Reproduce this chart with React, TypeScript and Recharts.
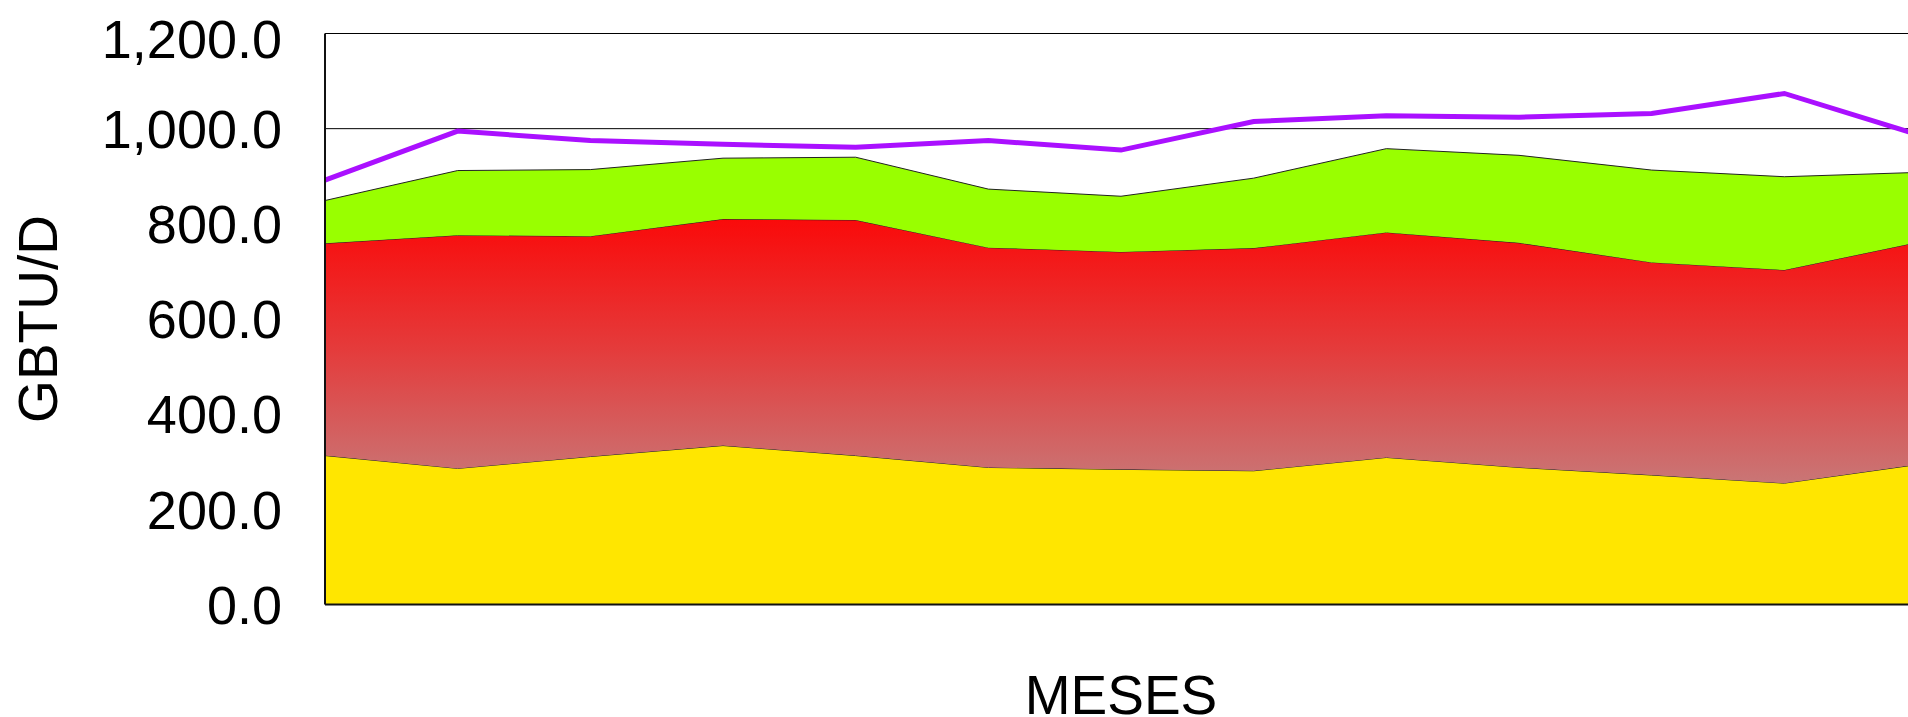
import { ComposedChart, Area, Line, XAxis, YAxis, CartesianGrid } from "recharts"

const MESES = ["ENE", "FEB", "MAR", "ABR", "MAY", "JUN", "JUL", "AGO", "SEP", "OCT", "NOV", "DIC", "ENE2"]

// stacked bands (GBTU/D)
const BASE = [313, 286, 311, 334, 313, 288, 284, 281, 309, 288, 272, 255, 294]
const MEDIO = [446, 490, 463, 476, 495, 462, 457, 468, 473, 472, 447, 448, 467]
const ALTO = [90, 136, 140, 128, 132, 123, 117, 147, 176, 184, 194, 196, 147]
// demand line
const DEMANDA = [892, 995, 975, 967, 961, 975, 955, 1015, 1027, 1024, 1032, 1074, 988]

const Y_TICKS = [0, 200, 400, 600, 800, 1000, 1200]

const data = MESES.map((m, i) => ({
  mes: m,
  base: BASE[i],
  medio: MEDIO[i],
  alto: ALTO[i],
  demanda: DEMANDA[i],
}))

const FONT = "'Liberation Sans', Arial, sans-serif"
const fmt = (v: number) => v.toLocaleString("en-US", { minimumFractionDigits: 1, maximumFractionDigits: 1 })

export default function App() {
  // fixed frame so the oversized chart (last month sits past the right edge) is clipped without scrollbars
  return (
    <div style={{ position: "fixed", left: 0, top: 0, width: 1908, height: 717, overflow: "hidden", background: "#fff", fontFamily: FONT }}>
      <div style={{ position: "absolute", left: 8, top: 8 }}>
        <ComposedChart width={1909} height={709} data={data} margin={{ top: 25.5, right: 0, bottom: 0, left: 0 }}>
          <defs>
            <linearGradient id="redGrad" x1="0" y1="0" x2="0" y2="1">
              <stop offset="0%" stopColor="#fa0a0a" />
              <stop offset="50%" stopColor="#e43c3c" />
              <stop offset="100%" stopColor="#c97676" />
            </linearGradient>
          </defs>
          <CartesianGrid vertical={false} stroke="#000" strokeWidth={1} />
          <XAxis dataKey="mes" scale="point" padding={{ left: 0, right: 0 }} height={112.5} tick={false}
            tickLine={false} axisLine={{ stroke: "#111", strokeWidth: 2 }}
            label={{ value: "MESES", position: "insideBottom", offset: 3, fontSize: 55, fill: "#000", fontFamily: FONT }} />
          <YAxis width={317} domain={[0, 1200]} ticks={Y_TICKS} tickFormatter={fmt} tickLine={false}
            tickSize={0} tickMargin={43} axisLine={{ stroke: "#111", strokeWidth: 2 }}
            tick={{ fill: "#000", fontSize: 54, fontFamily: FONT }}
            label={{ value: "GBTU/D", angle: -90, position: "insideLeft", offset: 29, fontSize: 55, fill: "#000", fontFamily: FONT, style: { textAnchor: "middle" } }} />
          <Area type="linear" dataKey="base" stackId="a" fill="#ffe600" fillOpacity={1} stroke="#222" strokeWidth={1} isAnimationActive={false} />
          <Area type="linear" dataKey="medio" stackId="a" fill="url(#redGrad)" fillOpacity={1} stroke="#222" strokeWidth={1} isAnimationActive={false} />
          <Area type="linear" dataKey="alto" stackId="a" fill="#99ff00" fillOpacity={1} stroke="#222" strokeWidth={1} isAnimationActive={false} />
          <Line type="linear" dataKey="demanda" stroke="#aa10ff" strokeWidth={5} dot={false} isAnimationActive={false} />
        </ComposedChart>
      </div>
    </div>
  )
}
